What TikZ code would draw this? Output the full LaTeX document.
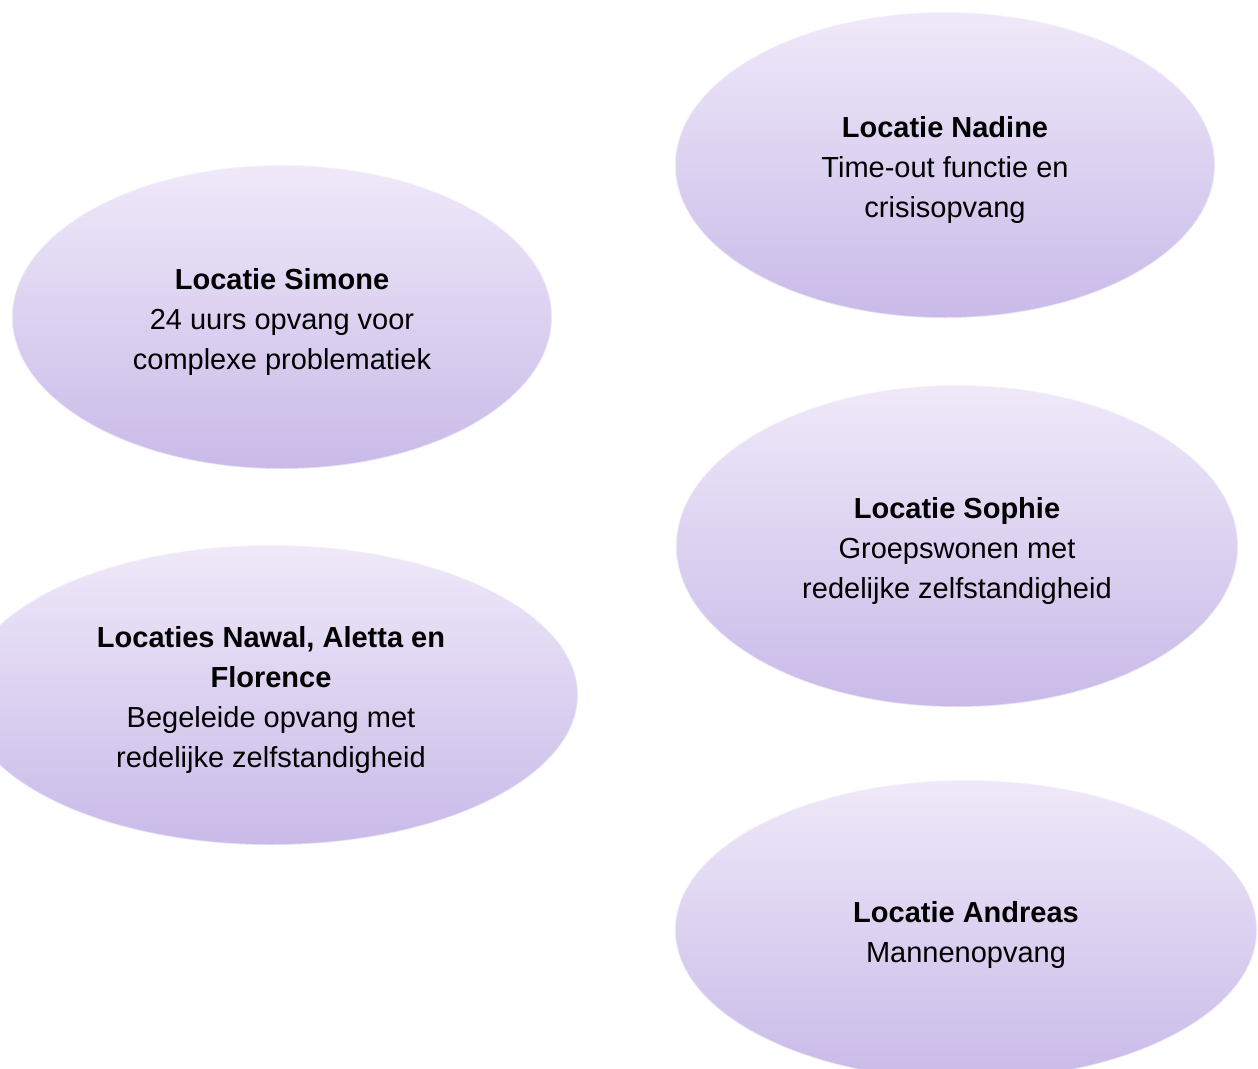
\documentclass[tikz,border=0pt]{standalone}
\usepackage{fontspec}
\setmainfont{Liberation Sans}
\usepackage{tikz}
\usetikzlibrary{shapes.geometric,positioning}
\definecolor{lilatop}{RGB}{239,233,249}
\definecolor{lilabottom}{RGB}{201,186,232}
\newcommand{\kop}[1]{\rule{0pt}{31pt}\textbf{#1}}

\begin{document}
\begin{tikzpicture}[
                x=1pt, y=1pt,
                on grid,
                locatie/.style={ellipse, top color=lilatop, bottom color=lilabottom,
                    draw=white, draw opacity=0.55, line width=1.5pt,
                    align=center, inner sep=0pt,
                    font=\fontsize{29}{40}\selectfont}]
            \useasboundingbox (0,0) rectangle (1258,-1068);
            \node[locatie, minimum width=540pt, minimum height=306pt] (nadine) at (945,-165)
                {\kop{Locatie Nadine}\\Time-out functie en\\crisisopvang};
            \node[locatie, minimum width=540pt, minimum height=304pt] (simone) [below left=152pt and 663pt of nadine]
                {\kop{Locatie Simone}\\24 uurs opvang voor\\complexe problematiek};
            \node[locatie, minimum width=562pt, minimum height=322pt] (sophie) [below right=381pt and 12pt of nadine]
                {\kop{Locatie Sophie}\\Groepswonen met\\redelijke zelfstandigheid};
            \node[locatie, minimum width=614pt, minimum height=300pt] (nawal) [below left=378pt and 11pt of simone]
                {\kop{Locaties Nawal, Aletta en}\\\textbf{Florence}\\Begeleide opvang met\\redelijke zelfstandigheid};
            \node[locatie, minimum width=582pt, minimum height=300pt] (andreas) [below right=384pt and 9pt of sophie]
                {\kop{Locatie Andreas}\\Mannenopvang};
        \end{tikzpicture}
\end{document}
